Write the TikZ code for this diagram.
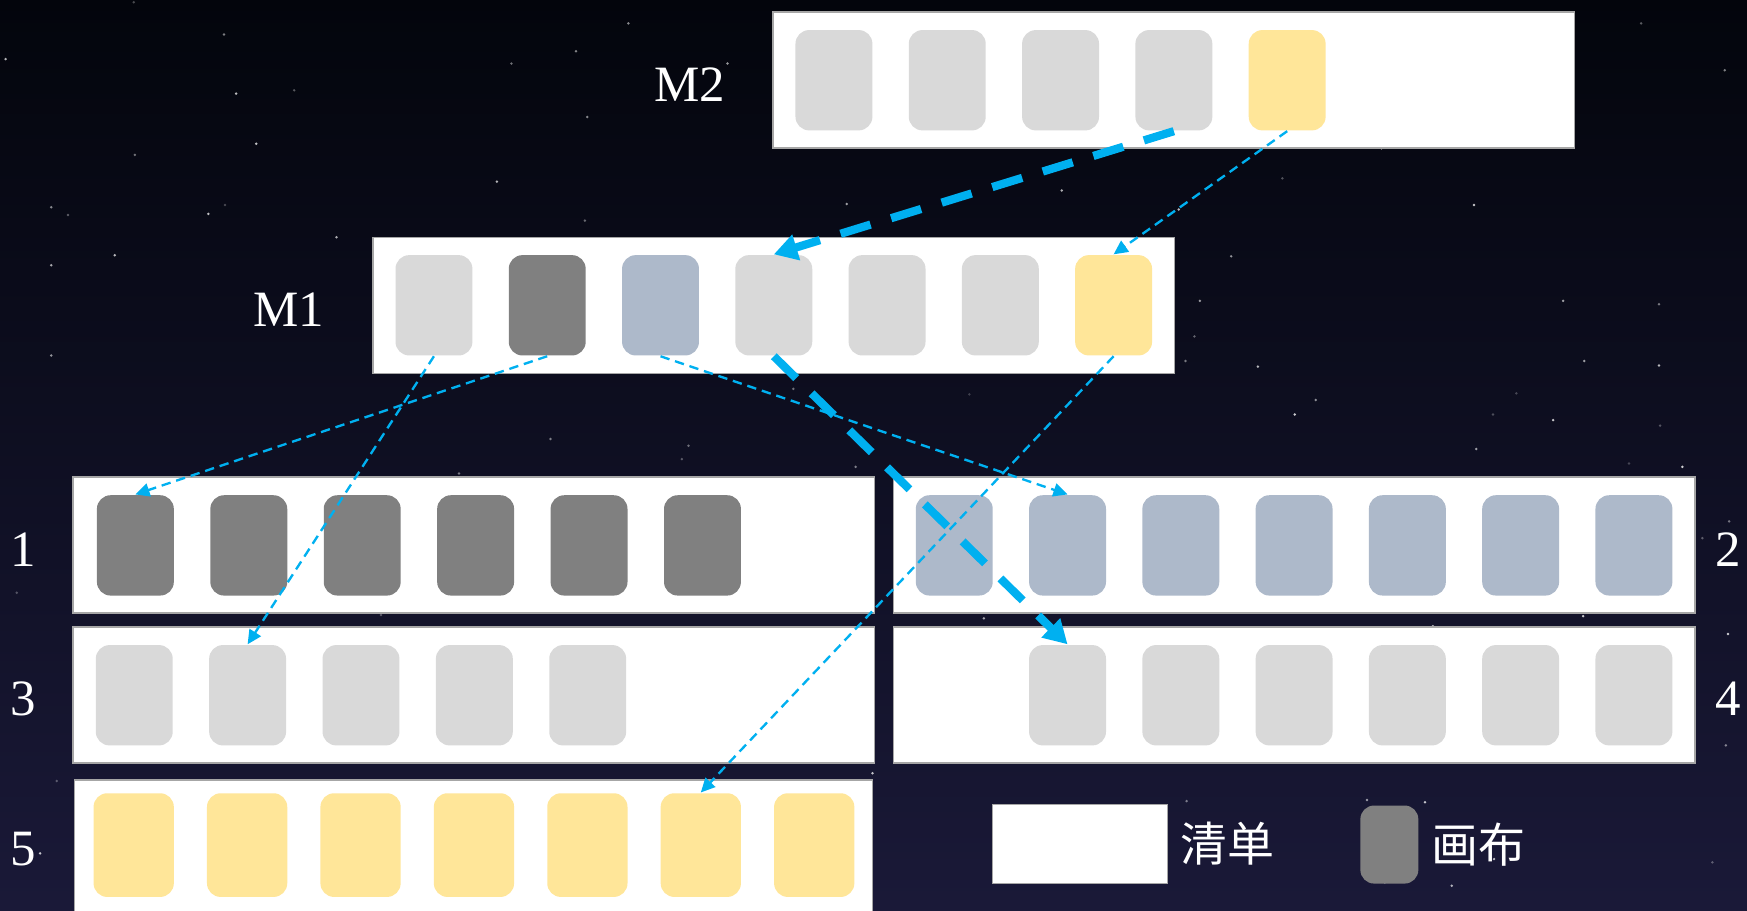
\documentclass[tikz,border=0pt]{standalone}
\usepackage{fontspec}
\setmainfont{Liberation Serif}
\newfontfamily\cjkfont{Noto Sans CJK SC}
\usepackage{xcolor}
\usepackage{tikz}
\usetikzlibrary{positioning,arrows.meta}

\definecolor{skytop}{HTML}{03050C}
\definecolor{skybottom}{HTML}{1A1938}
\definecolor{cardgray}{HTML}{D9D9D9}
\definecolor{carddark}{HTML}{808080}
\definecolor{cardblue}{HTML}{ADB9CA}
\definecolor{cardyellow}{HTML}{FFE699}
\definecolor{linkblue}{HTML}{00B0F0}

\begin{document}
\begin{tikzpicture}[x=0.01cm, y=-0.01cm,
  panel/.style={fill=white, draw=gray!70, line width=0.4pt, inner sep=0pt,
                minimum width=7.19cm, minimum height=1.22cm},
  card/.style={rounded corners=3.5pt, inner sep=0pt,
               minimum width=0.69cm, minimum height=0.9cm},
  numlabel/.style={text=white, font=\fontsize{13}{15}\selectfont},
  thinlink/.style={draw=linkblue, line width=0.6pt, dash pattern=on 2.4pt off 1.5pt,
                   -{Triangle[length=3.6pt, width=3.4pt]}},
  thicklink/.style={draw=linkblue, line width=2.1pt, dash pattern=on 8pt off 5.5pt,
                    -{Triangle[length=6pt, width=6.5pt]}}]
  \useasboundingbox (0,0) rectangle (1568,817);
  % starry background
  \shade[top color=skytop, bottom color=skybottom] (0,0) rectangle (1568,817);
  \pgfmathsetseed{42}
  \foreach \s in {1,...,140} {
    \pgfmathsetmacro\sx{random(0,1568)}
    \pgfmathsetmacro\sy{random(0,817)}
    \pgfmathsetmacro\so{0.2+0.6*rnd}
    \fill[white, opacity=\so] (\sx,\sy) circle (0.35pt);
  }

  % lists
  \node[panel] (m2) at (1053.5,72) {};
  \node[panel] (m1) at (694.5,274) {};
  \node[panel] (p1) at (425,489) {};
  \node[panel] (p2) at (1161.5,489) {};
  \node[panel] (p3) at (425,624) {};
  \node[panel] (p4) at (1161.5,624) {};
  \node[panel, minimum width=7.16cm, minimum height=1.4cm] (p5) at (425,770) {};

  % canvases
  \foreach \i in {1,...,4}
    \node[card, fill=cardgray] (m2c\i) at ({748.5+101.7*(\i-1)},72) {};
  \node[card, fill=cardyellow] (m2c5) at ({748.5+101.7*4},72) {};

  \foreach \i/\c in {1/cardgray,2/carddark,3/cardblue,4/cardgray,5/cardgray,6/cardgray,7/cardyellow}
    \node[card, fill=\c] (m1c\i) at ({389.5+101.67*(\i-1)},274) {};

  \foreach \i in {1,...,6}
    \node[card, fill=carddark] (p1c\i) at ({121.5+101.8*(\i-1)},489.5) {};
  \foreach \i in {1,...,7}
    \node[card, fill=cardblue] (p2c\i) at ({856.5+101.67*(\i-1)},489.5) {};
  \foreach \i in {1,...,5}
    \node[card, fill=cardgray] (p3c\i) at ({120.5+101.75*(\i-1)},624) {};
  \foreach \i in {2,...,7}
    \node[card, fill=cardgray] (p4c\i) at ({856.5+101.67*(\i-1)},624) {};
  \foreach \i in {1,...,7}
    \node[card, fill=cardyellow, minimum width=0.72cm, minimum height=0.93cm]
      (p5c\i) at ({120+101.8*(\i-1)},758.5) {};

  % labels
  \node[numlabel] (lm2) at (619,76) {M2};
  \node[numlabel] (lm1) at (259,278) {M1};
  \node[numlabel] (l1) at (21,493) {1};
  \node[numlabel] (l2) at (1551,493) {2};
  \node[numlabel] (l3) at (21,627) {3};
  \node[numlabel] (l4) at (1551,627) {4};
  \node[numlabel] (l5) at (21,762) {5};

  % links
  \draw[thicklink] (m2c4.south) -- (m1c4.north);
  \draw[thinlink] (m2c5.south) -- (m1c7.north);
  \draw[thinlink] (m1c2.south) -- (p1c1.north);
  \draw[thinlink] (m1c1.south) -- (p3c2.north);
  \draw[thinlink] (m1c3.south) -- (p2c2.north);
  \draw[thicklink] (m1c4.south) -- (p4c2.north);
  \draw[thinlink] (m1c7.south) -- (p5c6.north);

  % legend
  \node[fill=white, draw=gray!70, line width=0.4pt, inner sep=0pt,
        minimum width=1.57cm, minimum height=0.71cm] (lglist) at (969.5,757.5) {};
  \node[anchor=west, text=white, inner sep=0pt, font=\cjkfont\fontsize{12}{14}\selectfont]
    (lglisttext) at ([xshift=0.1cm]lglist.east) {清单};
  \node[card, fill=carddark, minimum width=0.52cm, minimum height=0.7cm] (lgcanvas) at (1247,758) {};
  \node[anchor=west, text=white, inner sep=0pt, font=\cjkfont\fontsize{12}{14}\selectfont]
    (lgcanvastext) at ([xshift=0.1cm]lgcanvas.east) {画布};
\end{tikzpicture}
\end{document}
